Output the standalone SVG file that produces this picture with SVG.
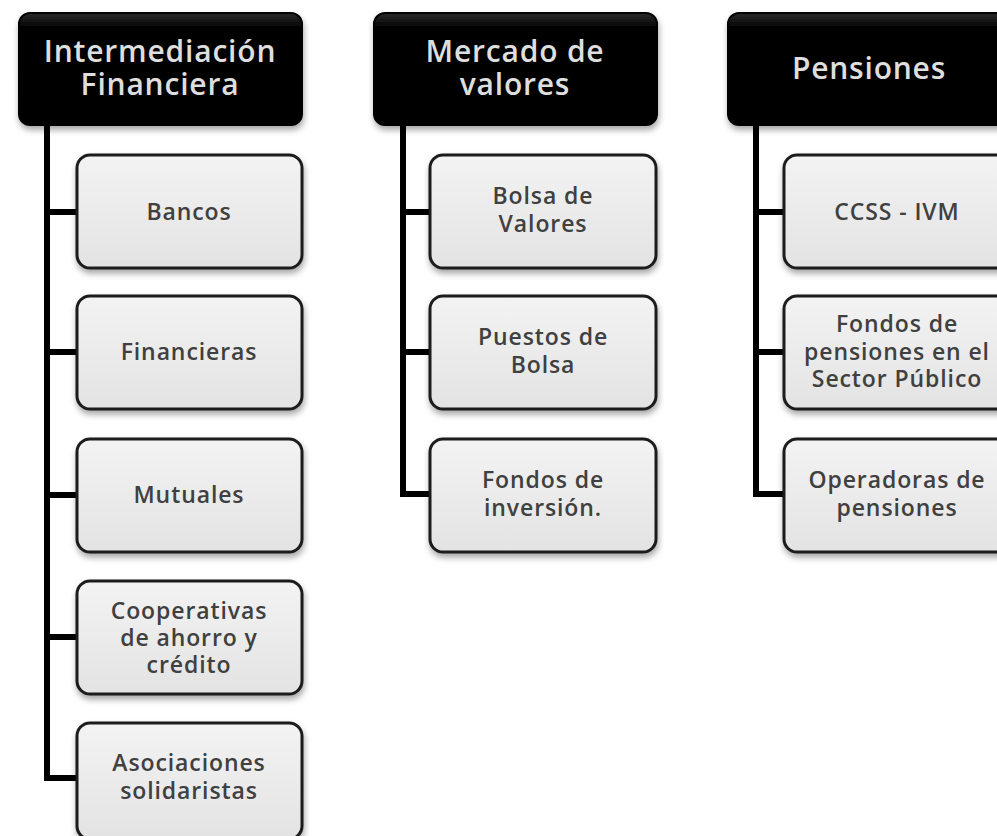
<svg xmlns="http://www.w3.org/2000/svg" width="997" height="836" viewBox="0 0 997 836">
<defs>
<filter id="sh" x="-10%" y="-10%" width="120%" height="130%">
<feDropShadow dx="1" dy="4" stdDeviation="3" flood-color="#000" flood-opacity="0.35"/>
</filter>
<linearGradient id="bg" x1="0" y1="0" x2="0" y2="1">
<stop offset="0" stop-color="#f3f3f3"/>
<stop offset="1" stop-color="#e3e3e3"/>
</linearGradient>
<linearGradient id="hg" x1="0" y1="0" x2="0" y2="1">
<stop offset="0" stop-color="#2a2a2a"/>
<stop offset="0.12" stop-color="#050505"/>
<stop offset="1" stop-color="#000"/>
</linearGradient>
</defs>
<style>
.hd{fill:url(#hg);stroke:#000;stroke-width:2;filter:url(#sh)}
.bx{fill:url(#bg);stroke:#1c1c1c;stroke-width:3;filter:url(#sh)}
.ht{font-family:"Open Sans","DejaVu Sans",sans-serif;font-size:30px;font-weight:600;letter-spacing:0.8px;fill:#dedede;text-anchor:middle}
.bt{font-family:"Open Sans","DejaVu Sans",sans-serif;font-size:23px;font-weight:600;letter-spacing:0.9px;fill:#404040;text-anchor:middle}
.ln{fill:none;stroke:#000;stroke-width:6;stroke-linejoin:miter}
</style>
<rect width="997" height="836" fill="#fff"/>
<g id="connectors">
<path class="ln" d="M47 124 V778 H78 M47 212 H78 M47 352 H78 M47 495 H78 M47 637 H78"/>
<path class="ln" d="M403 124 V494 H430 M403 212 H430 M403 352 H430"/>
<path class="ln" d="M756 124 V494 H784 M756 212 H784 M756 352 H784"/>
</g>
<g id="h1"><rect class="hd" x="19" y="13" width="283" height="112" rx="11"/>
<text class="ht"><tspan x="160" y="62">Intermediación</tspan><tspan x="160" dy="33">Financiera</tspan></text></g>
<g id="h2"><rect class="hd" x="374" y="13" width="283" height="112" rx="11"/>
<text class="ht"><tspan x="515" y="62">Mercado de</tspan><tspan x="515" dy="33">valores</tspan></text></g>
<g id="h3"><rect class="hd" x="728" y="13" width="283" height="112" rx="11"/>
<text class="ht" x="869" y="79">Pensiones</text></g>

<g id="b1"><rect class="bx" x="77" y="155" width="225" height="113" rx="13"/>
<text class="bt" x="189" y="220">Bancos</text></g>
<g id="b2"><rect class="bx" x="77" y="296" width="225" height="113" rx="13"/>
<text class="bt" x="189" y="360">Financieras</text></g>
<g id="b3"><rect class="bx" x="77" y="439" width="225" height="113" rx="13"/>
<text class="bt" x="189" y="503">Mutuales</text></g>
<g id="b4"><rect class="bx" x="77" y="581" width="225" height="113" rx="13"/>
<text class="bt"><tspan x="189" y="619">Cooperativas</tspan><tspan x="189" dy="27">de ahorro y</tspan><tspan x="189" dy="27">crédito</tspan></text></g>
<g id="b5"><rect class="bx" x="77" y="723" width="225" height="116" rx="13"/>
<text class="bt"><tspan x="189" y="771">Asociaciones</tspan><tspan x="189" dy="28">solidaristas</tspan></text></g>

<g id="c1"><rect class="bx" x="430" y="155" width="226" height="113" rx="13"/>
<text class="bt"><tspan x="543" y="204">Bolsa de</tspan><tspan x="543" dy="28">Valores</tspan></text></g>
<g id="c2"><rect class="bx" x="430" y="296" width="226" height="113" rx="13"/>
<text class="bt"><tspan x="543" y="345">Puestos de</tspan><tspan x="543" dy="28">Bolsa</tspan></text></g>
<g id="c3"><rect class="bx" x="430" y="439" width="226" height="113" rx="13"/>
<text class="bt"><tspan x="543" y="488">Fondos de</tspan><tspan x="543" dy="28">inversión.</tspan></text></g>

<g id="d1"><rect class="bx" x="784" y="155" width="226" height="113" rx="13"/>
<text class="bt" x="897" y="220">CCSS - IVM</text></g>
<g id="d2"><rect class="bx" x="784" y="296" width="226" height="113" rx="13"/>
<text class="bt"><tspan x="897" y="332">Fondos de</tspan><tspan x="897" dy="28">pensiones en el</tspan><tspan x="897" dy="27">Sector Público</tspan></text></g>
<g id="d3"><rect class="bx" x="784" y="439" width="226" height="113" rx="13"/>
<text class="bt"><tspan x="897" y="488">Operadoras de</tspan><tspan x="897" dy="28">pensiones</tspan></text></g>
</svg>
